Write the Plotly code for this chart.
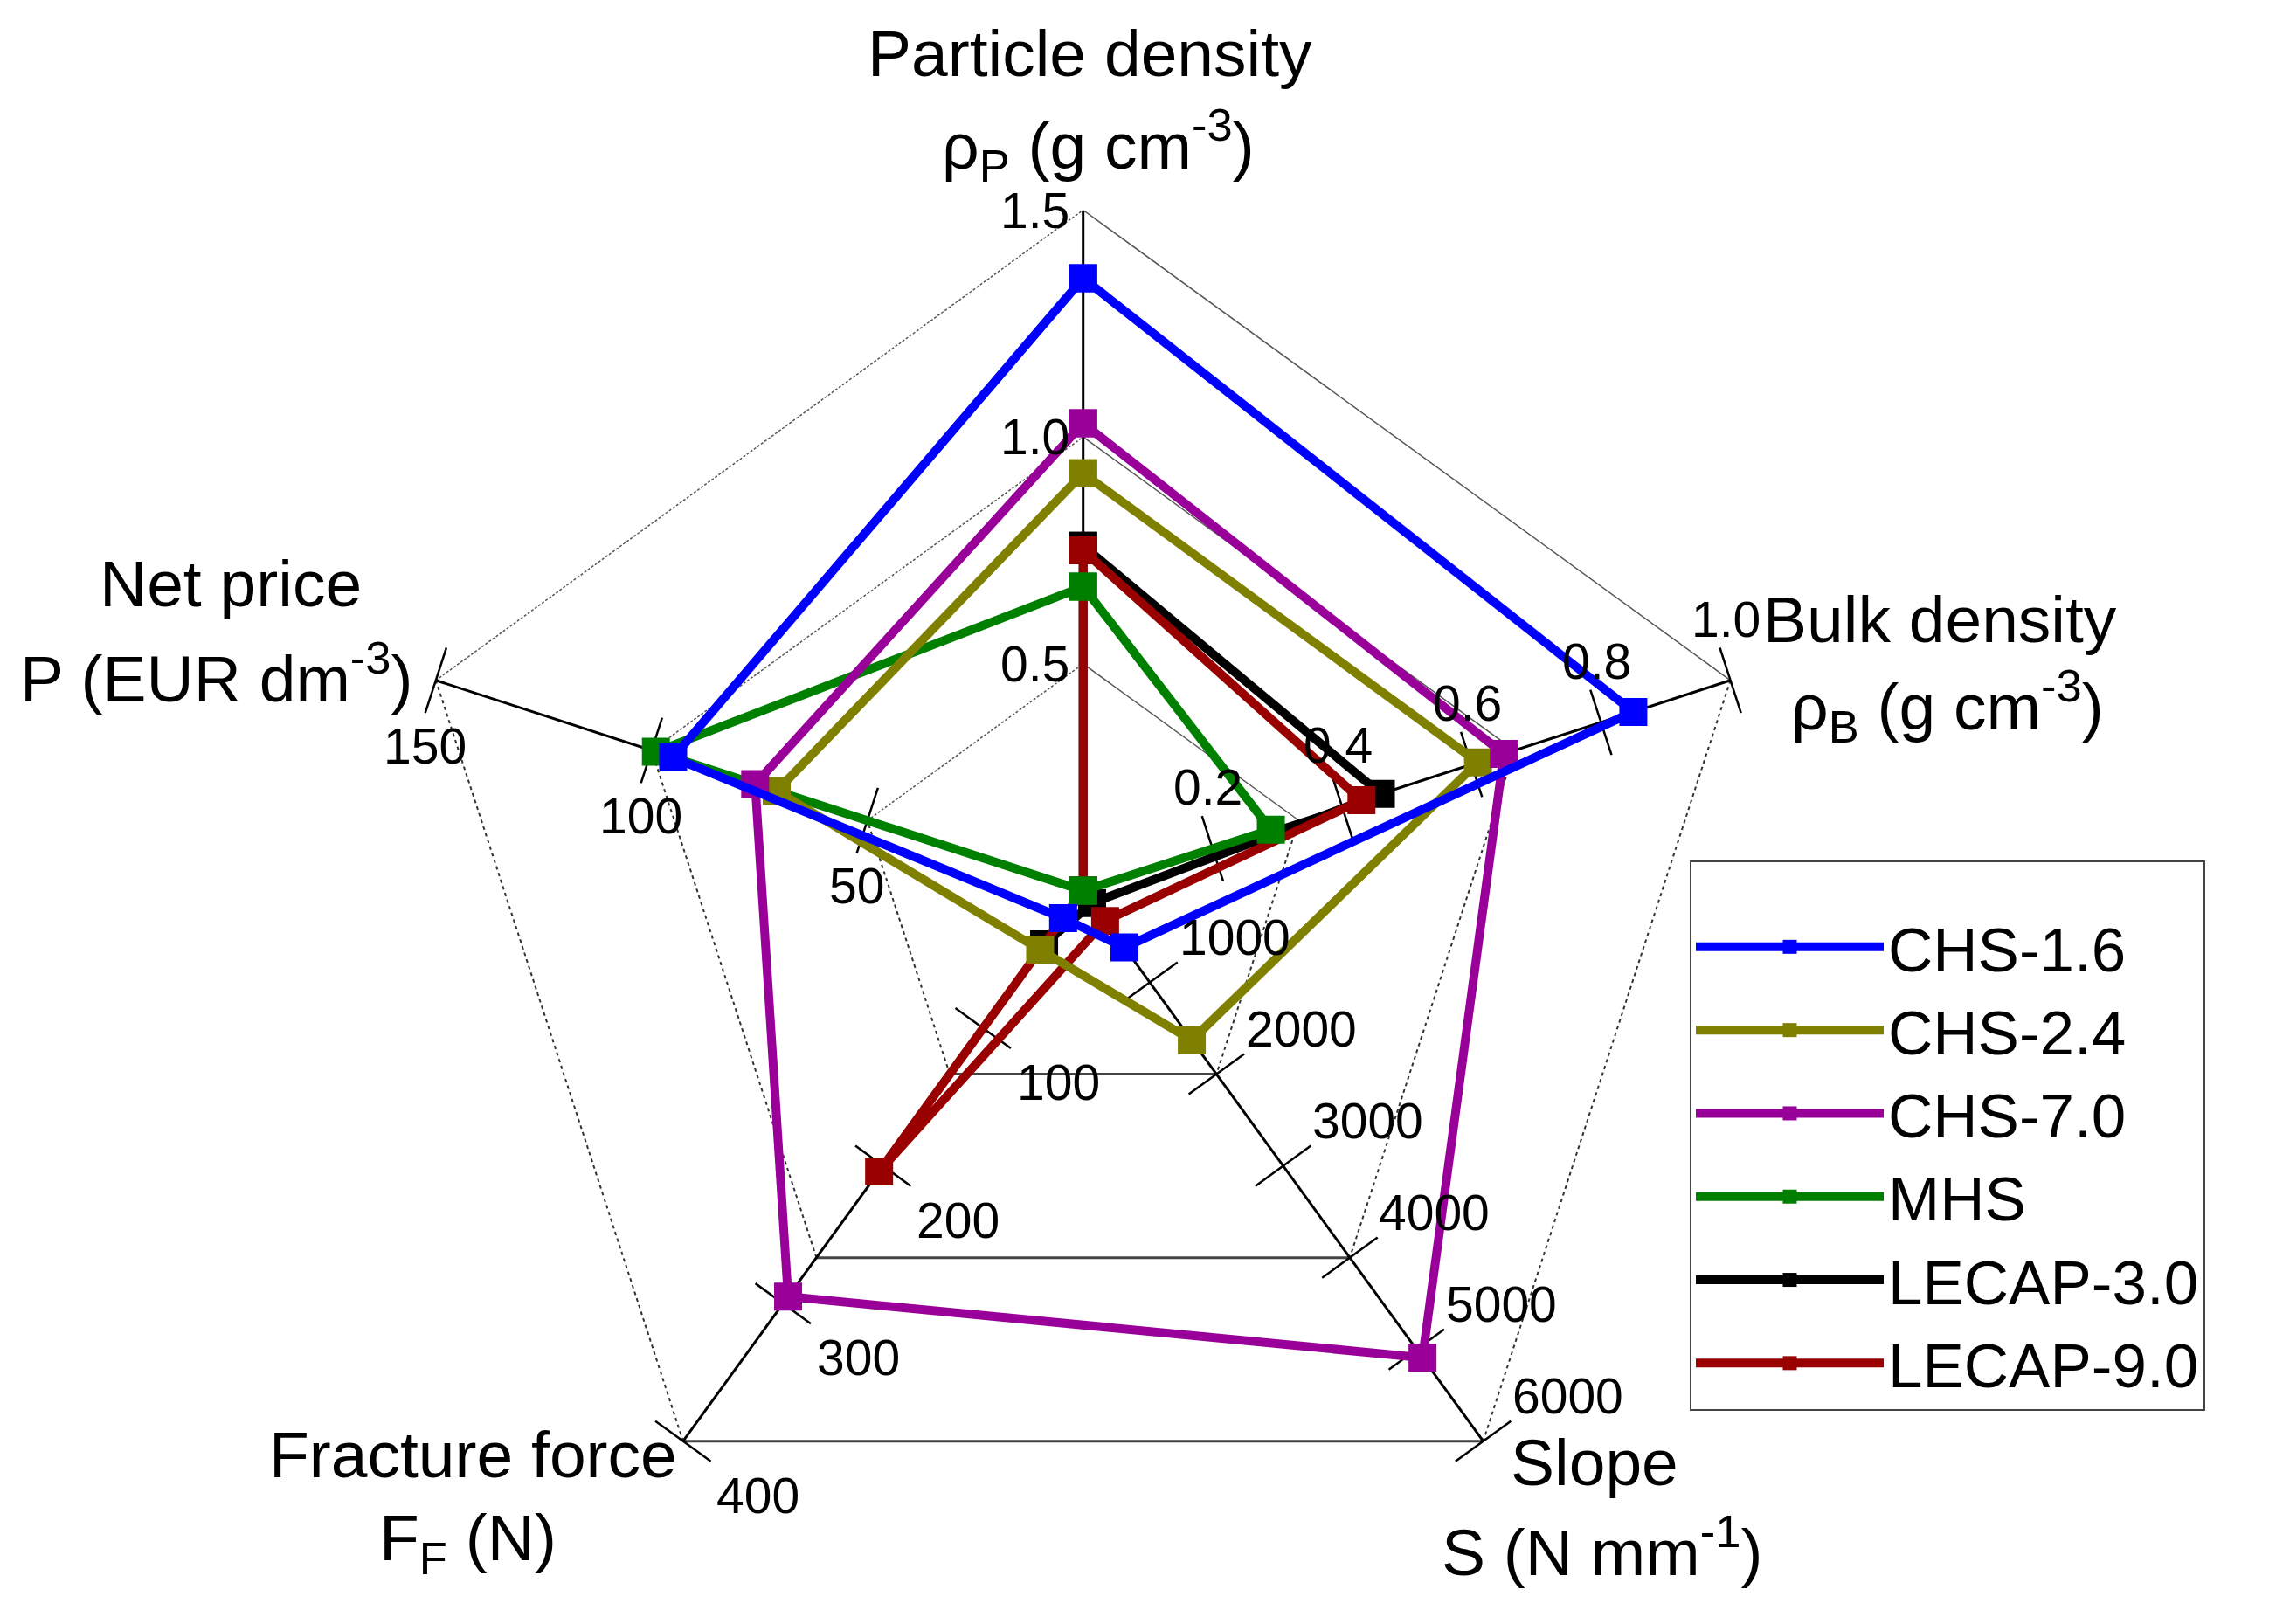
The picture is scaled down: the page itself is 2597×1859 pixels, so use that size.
import math
import plotly.graph_objects as go

# ---------------- data ----------------
axis_titles = [
    "Particle density<br>ρ<sub>P</sub> (g cm<sup>-3</sup>)",
    "Bulk density<br>ρ<sub>B</sub> (g cm<sup>-3</sup>)",
    "Slope<br>S (N mm<sup>-1</sup>)",
    "Fracture force<br>F<sub>F</sub> (N)",
    "Net price<br>P (EUR dm<sup>-3</sup>)",
]
axis_max = [1.5, 1.0, 6000, 400, 150]
axis_theta = [0, 72, 144, 216, 288]

tick_particle = [0.5, 1.0, 1.5]
tick_bulk = [0.2, 0.4, 0.6, 0.8, 1.0]
tick_slope = [1000, 2000, 3000, 4000, 5000, 6000]
tick_fracture = [100, 200, 300, 400]
tick_net = [50, 100, 150]

label_particle = ["0.5", "1.0", "1.5"]
label_bulk = ["0.2", "0.4", "0.6", "0.8", "1.0"]
label_slope = ["1000", "2000", "3000", "4000", "5000", "6000"]
label_fracture = ["100", "200", "300", "400"]
label_net = ["50", "100", "150"]

series_names = ["CHS-1.6", "CHS-2.4", "CHS-7.0", "MHS", "LECAP-3.0", "LECAP-9.0"]
# order: particle density, bulk density, slope, fracture force, net price
chs_16 = [1.35, 0.85, 620, 20, 95]
chs_24 = [0.92, 0.61, 1630, 43, 71]
chs_70 = [1.03, 0.65, 5090, 295, 76]
mhs = [0.67, 0.29, 0, 0, 99]
lecap_30 = [0.76, 0.46, 135, 39, 0]
lecap_90 = [0.75, 0.43, 330, 204, 0]
series_values = [chs_16, chs_24, chs_70, mhs, lecap_30, lecap_90]
series_colors = ["#0000FF", "#808000", "#990099", "#008000", "#000000", "#990000"]
draw_order = [4, 5, 3, 1, 2, 0]

grid_levels = [1 / 3, 2 / 3, 1.0]

# ---------------- geometry / styles ----------------
W, H = 2597, 1859
CX, CY, RAD = 1239.7, 1019.5, 779.0
FONT = "Liberation Sans, Arial, sans-serif"

edge_styles = [
    dict(color="#555555", width=1.5, dash="solid"),     # particle - bulk
    dict(color="#333333", width=2, dash="4px,4px"),     # bulk - slope
    dict(color="#444444", width=3, dash="solid"),       # slope - fracture
    dict(color="#333333", width=2, dash="4px,4px"),     # fracture - net
    dict(color="#555555", width=1.5, dash="3px,2px"),   # net - particle
]


def to_paper(r, theta):
    t = math.radians(theta)
    x = (CX + r * RAD * math.sin(t)) / W
    y = (H - (CY - r * RAD * math.cos(t))) / H
    return x, y


fig = go.Figure()

# grid pentagons
for lvl in grid_levels:
    for i in range(5):
        j = (i + 1) % 5
        fig.add_trace(go.Scatterpolar(
            r=[lvl, lvl], theta=[axis_theta[i], axis_theta[j]],
            mode="lines", line=edge_styles[i], showlegend=False,
            hoverinfo="skip", cliponaxis=False))

# axis spokes
for th in axis_theta:
    fig.add_trace(go.Scatterpolar(
        r=[0, 1], theta=[th, th], mode="lines",
        line=dict(color="black", width=3), showlegend=False,
        hoverinfo="skip", cliponaxis=False))

# tick marks (perpendicular to each axis)
tick_sets = [None, tick_bulk, tick_slope, tick_fracture, tick_net]
for k, ticks in enumerate(tick_sets):
    if ticks is None:
        continue
    fig.add_trace(go.Scatterpolar(
        r=[v / axis_max[k] for v in ticks], theta=[axis_theta[k]] * len(ticks),
        mode="markers",
        marker=dict(symbol="line-ew", size=56, angle=axis_theta[k],
                    line=dict(color="black", width=2.5)),
        showlegend=False, hoverinfo="skip", cliponaxis=False))

# data series
for idx in draw_order:
    vals = series_values[idx]
    r = [v / m for v, m in zip(vals, axis_max)]
    fig.add_trace(go.Scatterpolar(
        r=r + [r[0]], theta=axis_theta + [axis_theta[0]],
        mode="lines+markers", name=series_names[idx],
        legendrank=idx + 1,
        line=dict(color=series_colors[idx], width=10),
        marker=dict(symbol="square", size=32, color=series_colors[idx]),
        cliponaxis=False))

annotations = []

# tick labels
label_sets = [
    (0, tick_particle, label_particle, "right", -14, 0),
    (1, tick_bulk, label_bulk, "center", -5, 70),
    (2, tick_slope, label_slope, "center", 97, 52),
    (3, tick_fracture, label_fracture, "center", 86, -62),
    (4, tick_net, label_net, "center", -12, -75),
]
for k, ticks, labels, xanchor, xs, ys in label_sets:
    for v, lab in zip(ticks, labels):
        x, y = to_paper(v / axis_max[k], axis_theta[k])
        annotations.append(dict(
            x=x, y=y, xref="paper", yref="paper", text=lab, showarrow=False,
            xanchor=xanchor, yanchor="middle", xshift=xs, yshift=ys,
            font=dict(size=57, color="black", family=FONT)))

# axis titles: two lines each, offsets in px from axis end
title_offsets = [
    [(8, 180), (17, 75)],
    [(240, 70), (248, -29)],
    [(127, -24), (136, -121)],
    [(-240, -15), (-246, -116)],
    [(-235, 111), (-251, 8)],
]
for k, title in enumerate(axis_titles):
    x, y = to_paper(1.0, axis_theta[k])
    for line_text, (xs, ys) in zip(title.split("<br>"), title_offsets[k]):
        annotations.append(dict(
            x=x, y=y, xref="paper", yref="paper", text=line_text, showarrow=False,
            xanchor="center", yanchor="middle", xshift=xs, yshift=ys,
            font=dict(size=75, color="black", family=FONT)))

fig.update_layout(
    width=W, height=H,
    margin=dict(l=0, r=0, t=0, b=0, pad=0),
    paper_bgcolor="white", plot_bgcolor="white",
    polar=dict(
        domain=dict(x=[(CX - RAD) / W, (CX + RAD) / W],
                    y=[(H - CY - RAD) / H, (H - CY + RAD) / H]),
        bgcolor="rgba(0,0,0,0)",
        radialaxis=dict(range=[0, 1], visible=False, showgrid=False),
        angularaxis=dict(visible=False, showgrid=False, rotation=90,
                         direction="clockwise", thetaunit="degrees"),
    ),
    showlegend=True,
    legend=dict(
        x=1934 / W, y=1 - 985 / H, xanchor="left", yanchor="top",
        bgcolor="white", bordercolor="#444444", borderwidth=2,
        font=dict(size=71, color="black", family=FONT),
        title=dict(text=" ", font=dict(size=34)),
        itemwidth=215, itemsizing="trace", tracegroupgap=0,
    ),
    annotations=annotations,
)

fig.write_html(
    "out.html",
    config={"displayModeBar": False},
    post_script="document.body.style.margin='0';document.body.style.padding='0';",
)
